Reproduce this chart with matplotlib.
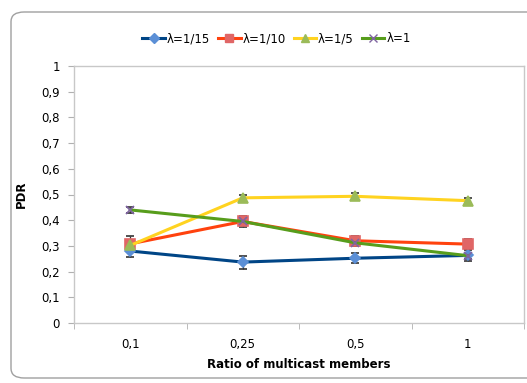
import matplotlib.pyplot as plt
from matplotlib.patches import FancyBboxPatch
from matplotlib.lines import Line2D

categories = ["0,1", "0,25", "0,5", "1"]
labels = ["λ=1/15", "λ=1/10", "λ=1/5", "λ=1"]
pdr_15 = [0.28, 0.237, 0.252, 0.263]
pdr_10 = [0.308, 0.395, 0.32, 0.307]
pdr_5 = [0.302, 0.487, 0.493, 0.476]
pdr_1 = [0.44, 0.395, 0.312, 0.262]
err_15 = [0.025, 0.025, 0.02, 0.02]
err_10 = [0.03, 0.02, 0.02, 0.02]
err_5 = [0.01, 0.012, 0.012, 0.01]
err_1 = [0.012, 0.01, 0.012, 0.012]
yticks = [0, 0.1, 0.2, 0.3, 0.4, 0.5, 0.6, 0.7, 0.8, 0.9, 1]

plt.rcParams["font.family"] = ["DejaVu Sans"]

fig = plt.figure(figsize=(5.27, 3.83), dpi=100)
fig.patch.set_facecolor("white")

# rounded frame around the whole chart
frame = FancyBboxPatch((11 / 527, 5 / 383), 530 / 527, 366 / 383,
                       boxstyle="round,pad=0,rounding_size=0.025",
                       transform=fig.transFigure, fill=False,
                       edgecolor="#a0a0a0", linewidth=1.0, clip_on=False)
fig.patches.append(frame)

ax = fig.add_axes([74 / 527, 1 - 323 / 383, 450 / 527, (323 - 66) / 383])
x = list(range(len(categories)))

styles = [
    (pdr_15, err_15, "#004586", "D", "#5b8fd6", 5.5),
    (pdr_10, err_10, "#ff420e", "s", "#e06666", 7),
    (pdr_5, err_5, "#ffd320", "^", "#9bbb59", 7),
    (pdr_1, err_1, "#579d1c", "x", "#8064a2", 6),
]
handles = []
for (vals, errs, col, mk, mcol, ms), lab in zip(styles, labels):
    ax.errorbar(x, vals, yerr=errs, color=col, linewidth=2.2,
                marker=mk, markersize=ms, markerfacecolor=mcol,
                markeredgecolor=mcol, markeredgewidth=1.2,
                ecolor="#333333", elinewidth=0.9, capsize=3, capthick=0.9)
    handles.append(Line2D([], [], color=col, linewidth=2.2, marker=mk,
                          markersize=ms * 0.85, markerfacecolor=mcol,
                          markeredgecolor=mcol, markeredgewidth=1.0,
                          label=lab))

ax.set_xlim(-0.5, 3.5)
ax.set_ylim(0, 1)
ax.set_yticks(yticks)
ax.set_yticklabels([("%g" % v).replace(".", ",") for v in yticks])
ax.set_xticks(x)
ax.set_xticklabels(categories)
ax.set_xticks([-0.5, 0.5, 1.5, 2.5, 3.5], minor=True)
ax.tick_params(axis="x", which="major", length=0, pad=11, labelsize=8.5)
ax.tick_params(axis="x", which="minor", length=4, color="#b0b0b0")
ax.tick_params(axis="y", length=4, color="#b0b0b0", labelsize=8.5, pad=6)
for side in ["left", "bottom", "top", "right"]:
    ax.spines[side].set_color("#c8c8c8")
    ax.spines[side].set_linewidth(1.0)

ax.set_xlabel("Ratio of multicast members", fontweight="bold", fontsize=8.5,
              labelpad=5)
ax.set_ylabel("PDR", fontweight="bold", fontsize=8.5, labelpad=10)

ax.legend(handles=handles, loc="lower center", bbox_to_anchor=(0.45, 1.04),
          ncol=4, frameon=False, fontsize=8.5, handlelength=1.9,
          handletextpad=0.15, columnspacing=0.7)

fig.savefig("out.png", dpi=100)
